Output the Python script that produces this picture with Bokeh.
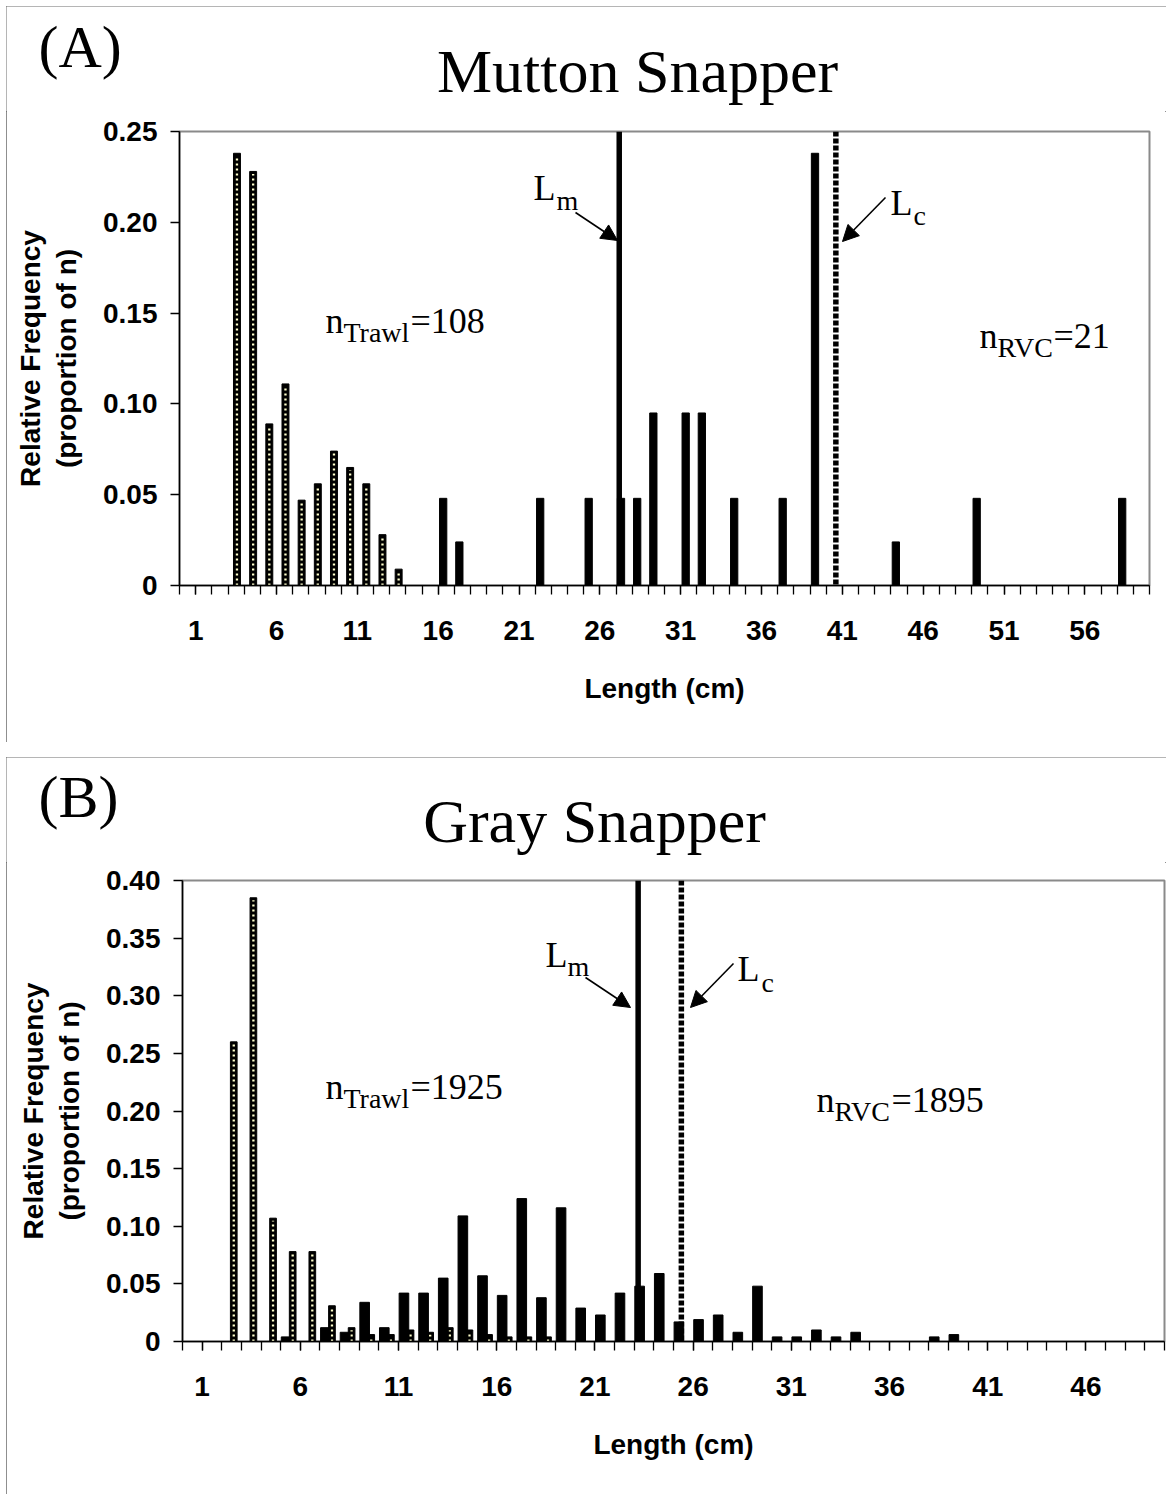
from bokeh.plotting import figure
from bokeh.layouts import column
from bokeh.models import (Range1d, FixedTicker, Label, Arrow, NormalHead, Span,
                          CustomJSTickFormatter)
from bokeh.core.properties import value
from bokeh.embed import file_html
from bokeh.resources import INLINE

SERIF = "Liberation Serif"
SANS = "Liberation Sans"

# ---------------- Panel A : Mutton Snapper ----------------
a_tag = "(A)"
a_title = "Mutton Snapper"
a_trawl_len = [3, 4, 5, 6, 7, 8, 9, 10, 11, 12, 13]
a_trawl_freq = [0.238, 0.228, 0.089, 0.111, 0.047, 0.056, 0.074, 0.065, 0.056, 0.028, 0.009]
a_rvc_len = [16, 17, 22, 25, 27, 28, 29, 31, 32, 34, 37, 39, 44, 49, 58]
a_rvc_freq = [0.048, 0.024, 0.048, 0.048, 0.048, 0.048, 0.095, 0.095, 0.095, 0.048,
              0.048, 0.238, 0.024, 0.048, 0.048]
a_lm = 27.2
a_lc = 40.6
a_n_trawl = "=108"
a_n_rvc = "=21"
a_xmax = 60
a_ymax = 0.25
a_yticks = [0.0, 0.05, 0.10, 0.15, 0.20, 0.25]
a_xticks = [1, 6, 11, 16, 21, 26, 31, 36, 41, 46, 51, 56]

# ---------------- Panel B : Gray Snapper ----------------
b_tag = "(B)"
b_title = "Gray Snapper"
b_trawl_len = [2, 3, 4, 5, 6, 7, 8, 9, 10, 11, 12, 13, 14, 15, 16, 17, 18]
b_trawl_freq = [0.260, 0.385, 0.107, 0.078, 0.078, 0.031, 0.012, 0.006, 0.006, 0.010,
                0.008, 0.012, 0.010, 0.006, 0.004, 0.004, 0.004]
b_rvc_len = [5, 7, 8, 9, 10, 11, 12, 13, 14, 15, 16, 17, 18, 19, 20, 21, 22, 23, 24,
             25, 26, 27, 28, 29, 30, 31, 32, 33, 34, 38, 39]
b_rvc_freq = [0.004, 0.012, 0.008, 0.034, 0.012, 0.042, 0.042, 0.055, 0.109, 0.057,
              0.040, 0.124, 0.038, 0.116, 0.029, 0.023, 0.042, 0.048, 0.059, 0.017,
              0.019, 0.023, 0.008, 0.048, 0.004, 0.004, 0.010, 0.004, 0.008, 0.004, 0.006]
b_lm = 23.2
b_lc = 25.4
b_n_trawl = "=1925"
b_n_rvc = "=1895"
b_xmax = 50
b_ymax = 0.40
b_yticks = [0.0, 0.05, 0.10, 0.15, 0.20, 0.25, 0.30, 0.35, 0.40]
b_xticks = [1, 6, 11, 16, 21, 26, 31, 36, 41, 46]

PALE = "#FFFFCC"
PANEL_W = 1160
HEAD_H = 105
BASE_SHIFT = 0.35   # empirical baseline correction (fraction of font size)


def no_align(p):
    try:
        p.frame_align = False
    except Exception:
        pass


def header(tag, title, tag_xy, title_xy):
    h = figure(width=PANEL_W, height=HEAD_H, x_range=Range1d(0, PANEL_W),
               y_range=Range1d(HEAD_H, 0), x_axis_type=None, y_axis_type=None,
               output_backend="svg", toolbar_location=None,
               min_border_left=0, min_border_right=0, min_border_top=0, min_border_bottom=0)
    no_align(h)
    h.title_location = None
    h.outline_line_color = None
    h.background_fill_color = "white"
    h.border_fill_color = "white"
    h.text(x=[tag_xy[0]], y=[tag_xy[1] - BASE_SHIFT * 60], text=[tag], text_font=value(SERIF),
           text_font_size=value("60px"), text_align="left", text_baseline="alphabetic",
           text_color="black")
    h.text(x=[title_xy[0]], y=[title_xy[1] - BASE_SHIFT * 62], text=[title],
           text_font=value(SERIF), text_font_size=value("62px"), text_align="center",
           text_baseline="alphabetic", text_color="black")
    return h


def build(trawl_len, trawl_freq, rvc_len, rvc_freq, lm, lc,
          xmax, ymax, yticks, xticks, height, frame, origin,
          trawl_off, trawl_w, rvc_off, rvc_w, texts, arrows):
    width = PANEL_W
    fl, fr, ft, fb = frame           # frame edges in canvas px
    ox, oy = origin                  # canvas origin in page px
    p = figure(width=width, height=height, x_range=Range1d(0, xmax), y_range=Range1d(0, ymax),
               output_backend="svg", toolbar_location=None,
               min_border_left=fl, min_border_right=width - fr,
               min_border_top=ft, min_border_bottom=height - fb)
    no_align(p)
    p.title_location = None
    p.xgrid.visible = False
    p.ygrid.visible = False
    p.outline_line_color = "#8a8a8a"
    p.outline_line_width = 2
    p.background_fill_color = "white"
    p.border_fill_color = "white"

    for ax in (p.xaxis[0], p.yaxis[0]):
        ax.axis_line_color = "black"
        ax.axis_line_width = 1.5
        ax.major_tick_line_color = "black"
        ax.major_tick_line_width = 1.3
        ax.major_tick_in = 0
        ax.major_tick_out = 9
        ax.major_label_text_font = SANS
        ax.major_label_text_font_style = "bold"
        ax.major_label_text_font_size = "28px"
        ax.major_label_text_color = "black"
        ax.axis_label_text_font = SANS
        ax.axis_label_text_font_style = "bold"
        ax.axis_label_text_font_size = "28px"
        ax.axis_label_text_color = "black"

    xa = p.xaxis[0]
    xa.ticker = FixedTicker(ticks=xticks, minor_ticks=list(range(0, xmax + 1)))
    xa.minor_tick_line_color = "black"
    xa.minor_tick_line_width = 1.3
    xa.minor_tick_in = 0
    xa.minor_tick_out = 9
    xa.major_label_standoff = 26
    xa.axis_label = "Length (cm)"
    xa.axis_label_standoff = 30

    ya = p.yaxis[0]
    ya.ticker = FixedTicker(ticks=yticks, minor_ticks=[])
    ya.formatter = CustomJSTickFormatter(code="return tick == 0 ? '0' : tick.toFixed(2);")
    ya.minor_tick_line_color = None
    ya.major_label_standoff = 13
    ya.axis_label = "Relative Frequency\n(proportion of n)"
    ya.axis_label_standoff = 18
    ya.axis_label_text_line_height = 1.15

    # bars: trawl (patterned) first, RVC (solid) drawn over it
    tx = [L + trawl_off for L in trawl_len]
    p.vbar(x=tx, top=trawl_freq, width=trawl_w, bottom=0,
           fill_color="black", line_color="black", line_width=1)
    px_unit = ymax / (fb - ft)
    ttop = [max(f - 2.5 * px_unit, 0) for f in trawl_freq]
    p.segment(x0=tx, y0=[0] * len(tx), x1=tx, y1=ttop,
              line_color=PALE, line_width=2.3, line_dash="2 3")
    rx = [L + rvc_off for L in rvc_len]
    p.vbar(x=rx, top=rvc_freq, width=rvc_w, bottom=0,
           fill_color="black", line_color="black", line_width=1)

    # Lm (solid) and Lc (dotted) markers
    p.add_layout(Span(location=lm, dimension="height", line_color="black", line_width=5.5))
    p.add_layout(Span(location=lc, dimension="height", line_color="black", line_width=5.5,
                      line_dash="5 2"))

    def pos(px, py):
        sx = px - ox
        sy = py - oy
        return ((sx - fl) / (fr - fl) * xmax, (fb - sy) / (fb - ft) * ymax)

    for (txt, px, py, size) in texts:
        x, y = pos(px, py - BASE_SHIFT * size)
        p.add_layout(Label(x=x, y=y, text=txt, text_font=SERIF, text_font_size=f"{size}px",
                           text_align="left", text_baseline="alphabetic", text_color="black"))
    for (x0, y0, x1, y1) in arrows:
        xs, ys = pos(x0, y0)
        xe, ye = pos(x1, y1)
        p.add_layout(Arrow(end=NormalHead(size=16, fill_color="black", line_color="black",
                                          line_width=1),
                           x_start=xs, y_start=ys, x_end=xe, y_end=ye,
                           line_color="black", line_width=1.6))
    return p


textsA = [
    ("L", 533, 200, 36), ("m", 556, 210, 28),
    ("L", 890, 215, 36), ("c", 913, 225, 28),
    ("n", 325, 333, 36), ("Trawl", 343, 342, 28),
    (a_n_trawl, 410, 333, 36),
    ("n", 979, 348, 36), ("RVC", 997, 357, 28),
    (a_n_rvc, 1053, 348, 36),
]
arrowsA = [(575, 212, 617, 240), (885, 197, 842, 241)]

textsB = [
    ("L", 545, 967, 36), ("m", 567, 976, 28),
    ("L", 737, 981, 36), ("c", 761, 992, 28),
    ("n", 325, 1099, 36), ("Trawl", 343, 1108, 28),
    (b_n_trawl, 410, 1099, 36),
    ("n", 816, 1112, 36), ("RVC", 834, 1121, 28),
    (b_n_rvc, 891, 1112, 36),
]
arrowsB = [(585, 977, 630, 1007), (733, 963, 690, 1007)]

hA = header(a_tag, a_title, (32, 61), (631, 86))
pA = build(a_trawl_len, a_trawl_freq, a_rvc_len, a_rvc_freq, a_lm, a_lc,
           a_xmax, a_ymax, a_yticks, a_xticks,
           height=736 - HEAD_H, frame=(173, 1143, 20, 474), origin=(6, 6 + HEAD_H),
           trawl_off=0.555, trawl_w=0.43, rvc_off=0.31, rvc_w=0.45,
           texts=textsA, arrows=arrowsA)

hB = header(b_tag, b_title, (32, 60), (588, 85))
pB = build(b_trawl_len, b_trawl_freq, b_rvc_len, b_rvc_freq, b_lm, b_lc,
           b_xmax, b_ymax, b_yticks, b_xticks,
           height=737 - HEAD_H, frame=(176, 1158, 18, 479), origin=(6, 757 + HEAD_H),
           trawl_off=0.61, trawl_w=0.34, rvc_off=0.275, rvc_w=0.49,
           texts=textsB, arrows=arrowsB)

border = {"outline": "1.5px solid #6a6a6a", "outline-offset": "-1.5px"}
panelA = column(hA, pA, spacing=0, margin=(6, 0, 0, 6), styles=border)
panelB = column(hB, pB, spacing=0, margin=(0, 0, 0, 6), styles=border)
layout = column(panelA, panelB, spacing=15)
open("out.html", "w").write(file_html(layout, INLINE))
